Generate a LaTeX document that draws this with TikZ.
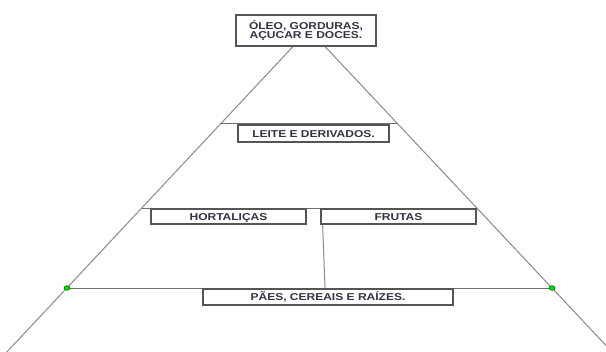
\documentclass[tikz,border=0pt]{standalone}
\usepackage{fontspec}
\usetikzlibrary{shapes.geometric}
\setmainfont{Liberation Sans}
\newfontfamily\boxfont{Liberation Sans}[FakeStretch=1.2]
\definecolor{boxgray}{HTML}{555555}
\definecolor{lngray}{HTML}{8A8A8A}
\definecolor{hgray}{HTML}{6E6E6E}
\definecolor{txtcol}{HTML}{333344}
\begin{document}
\begin{tikzpicture}[x=1bp,y=-1bp,
  lbl/.style={draw=boxgray, fill=white, line width=1.4bp, inner sep=0pt, align=center, text=txtcol,
    font=\boxfont\bfseries\fontsize{10bp}{9.5bp}\selectfont},
  one/.style={text height=7.2bp, text depth=0bp},
  side/.style={draw=lngray, line width=1bp},
  hline/.style={draw=hgray, line width=1bp},
  gdot/.style={ellipse, fill=green!85!black, draw=green!35!black, line width=0.3bp, inner sep=0pt,
    minimum width=6bp, minimum height=4.5bp}]
\useasboundingbox (0,0) rectangle (606,351);
\fill[white] (0,0) rectangle (606,351);
\begin{scope}
\clip (0,0) rectangle (606,351);
% named points
\coordinate (aL) at (293,46.5);
\coordinate (aR) at (325,46.5);
\coordinate (bL) at (5,354);
\coordinate (bR) at (614,354);
\coordinate (l1L) at (221,123);
\coordinate (l1R) at (397,123);
\coordinate (l2L) at (142,208);
\coordinate (l2R) at (477,208);
\coordinate (vT) at (322,208);
\coordinate (vB) at (325,288);
% triangle sides
\draw[side] (aL) -- (bL);
\draw[side] (aR) -- (bR);
% horizontal dividers
\draw[hline] (l1L) -- (l1R);
\draw[hline] (l2L) -- (l2R);
\draw[side] (vT) -- (vB);
\node[gdot] (dL) at (67,288) {};
\node[gdot] (dR) at (552,288) {};
\draw[hline] (dL) -- (dR);
\node[gdot] at (dL) {};
\node[gdot] at (dR) {};
\end{scope}
% boxes
\node[lbl, minimum width=140bp, minimum height=31bp] (top) at (306,30.5) {ÓLEO, GORDURAS,\\AÇUCAR E DOCES.};
\node[lbl, one, minimum width=151bp, minimum height=17bp] (leite) at (313.5,133.5) {LEITE E DERIVADOS.};
\node[lbl, one, minimum width=155bp, minimum height=15bp] (hort) at (228.5,216.5) {HORTALIÇAS};
\node[lbl, one, minimum width=155bp, minimum height=15bp] (frut) at (398.5,216.5) {FRUTAS};
\node[lbl, one, minimum width=250bp, minimum height=16bp] (paes) at (328,297) {PÃES, CEREAIS E RAÍZES.};
\end{tikzpicture}
\end{document}
